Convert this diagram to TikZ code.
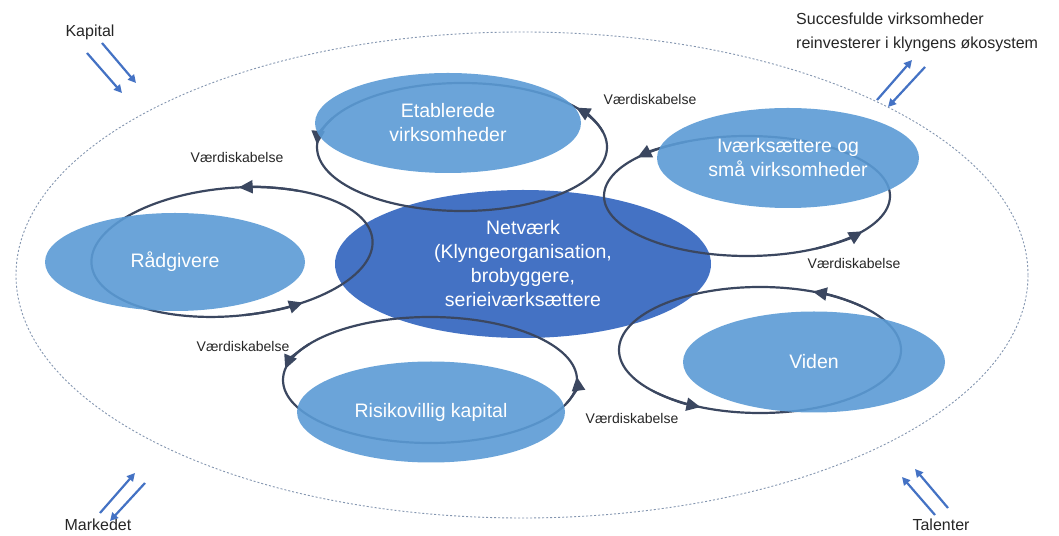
\documentclass[tikz,border=0pt]{standalone}
\usepackage{fontspec}
\setmainfont{Liberation Sans}
\usetikzlibrary{arrows.meta,shapes.geometric}
\definecolor{lightblue}{HTML}{5B9BD5}
\definecolor{darkblue}{HTML}{4472C4}
\definecolor{loopcol}{HTML}{3B4760}
\definecolor{dashcol}{HTML}{8496B0}
\definecolor{arrowblue}{HTML}{4472C4}
\tikzset{
  lightell/.style={ellipse, fill=lightblue, fill opacity=0.9, text opacity=1, text=white,
    inner sep=0pt, outer sep=0pt, align=center, font=\fontsize{19.5}{24}\selectfont},
  darkell/.style={ellipse, fill=darkblue, text=white, inner sep=0pt, outer sep=0pt,
    align=center, font=\fontsize{19.5}{24}\selectfont},
  loopline/.style={draw=loopcol, line width=2.2pt},
  looptip/.style={-{Triangle[length=14pt,width=13pt]}},
  flow/.style={draw=arrowblue, line width=2.2pt, -{Triangle[length=8pt,width=8pt]}},
  vlabel/.style={font=\fontsize{14}{16}\selectfont, text=black!85, inner sep=0pt},
  outlabel/.style={font=\fontsize{16}{24}\selectfont, text=black!85, inner sep=0pt},
  outer/.style={draw=dashcol, line width=0.9pt, dash pattern=on 2pt off 2pt}
}
\newcommand{\valueloop}[7]{%
  \begin{scope}[shift={(#1,#2)}, rotate=#5]
    \draw[loopline] (0,0) ellipse [x radius=#3pt, y radius=#4pt];
    \draw[loopline, looptip] (#6-25:#3pt and #4pt) arc [start angle=#6-25, end angle=#6, x radius=#3pt, y radius=#4pt];
    \draw[loopline, looptip] (#7-25:#3pt and #4pt) arc [start angle=#7-25, end angle=#7, x radius=#3pt, y radius=#4pt];
  \end{scope}}
\begin{document}
\begin{tikzpicture}[x=1pt, y=1pt]
  \fill[white] (0,0) rectangle (1059,535);
  \useasboundingbox (0,0) rectangle (1059,535);

  % outer ecosystem
  \draw[outer] (522,260) ellipse [x radius=506pt, y radius=243pt];

  % central network
  \node[darkell, minimum width=376pt, minimum height=148pt] (net) at (523,271)
    {Netværk\\(Klyngeorganisation,\\brobyggere,\\serieiværksættere};

  % value creation loops
  \valueloop{232}{283}{141}{64}{5}{85}{298}
  \valueloop{462}{388}{145}{64}{0}{38}{178}
  \valueloop{747}{339}{143}{60}{0}{140}{324}
  \valueloop{430}{155}{147}{63}{0}{3}{170}
  \valueloop{760}{185}{141}{63}{0}{68}{245}

  % actors
  \node[lightell, minimum width=266pt, minimum height=100pt] (etab) at (448,412) {Etablerede\\virksomheder};
  \node[lightell, minimum width=262pt, minimum height=100pt] (ivaerk) at (788,377) {Iværksættere og\\små virksomheder};
  \node[lightell, minimum width=260pt, minimum height=98pt] (raad) at (175,273) {Rådgivere};
  \node[lightell, minimum width=268pt, minimum height=101pt] (risiko) at (431,123) {Risikovillig kapital};
  \node[lightell, minimum width=262pt, minimum height=101pt] (viden) at (814,173) {Viden};

  % value creation labels
  \node[vlabel] (v1) at (237,377) {Værdiskabelse};
  \node[vlabel] (v2) at (650,435) {Værdiskabelse};
  \node[vlabel] (v3) at (854,271) {Værdiskabelse};
  \node[vlabel] (v4) at (243,189) {Værdiskabelse};
  \node[vlabel] (v5) at (632,117) {Værdiskabelse};

  % outside labels
  \node[outlabel] (kapital) at (90,503) {Kapital};
  \node[outlabel, anchor=west, align=left] (succes) at (796,503)
    {Succesfulde virksomheder\\reinvesterer i klyngens økosystem};
  \node[outlabel] (marked) at (98,10) {Markedet};
  \node[outlabel] (talent) at (941,10) {Talenter};

  % flows
  \coordinate (ka1) at (87,482);  \coordinate (ka2) at (122,442);
  \coordinate (kb1) at (102,492); \coordinate (kb2) at (136,452);
  \draw[flow] (ka1) -- (ka2);
  \draw[flow] (kb1) -- (kb2);
  \coordinate (sa1) at (877,435); \coordinate (sa2) at (912,475);
  \coordinate (sb1) at (925,468); \coordinate (sb2) at (888,428);
  \draw[flow] (sa1) -- (sa2);
  \draw[flow] (sb1) -- (sb2);
  \coordinate (ma1) at (100,22);  \coordinate (ma2) at (135,62);
  \coordinate (mb1) at (145,52);  \coordinate (mb2) at (110,14);
  \draw[flow] (ma1) -- (ma2);
  \draw[flow] (mb1) -- (mb2);
  \coordinate (ta1) at (935,20);  \coordinate (ta2) at (902,58);
  \coordinate (tb1) at (948,27);  \coordinate (tb2) at (915,66);
  \draw[flow] (ta1) -- (ta2);
  \draw[flow] (tb1) -- (tb2);
\end{tikzpicture}
\end{document}
